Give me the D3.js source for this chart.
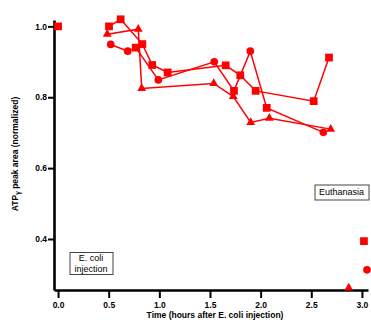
<!DOCTYPE html>
<html>
<head>
<meta charset="utf-8">
<script src="https://cdn.jsdelivr.net/npm/d3@7"></script>
<style>
    body { margin: 0; background: #fff; }
    svg { display: block; }
</style>
</head>
<body>
<div id="chart"></div>
<script>
// series A (mostly squares)
const timeA = [0.503, 0.618, 0.832, 0.930, 1.082, 1.655, 1.799, 1.951, 2.524, 2.675];
const valueA = [1.000, 1.020, 0.950, 0.891, 0.870, 0.890, 0.862, 0.818, 0.789, 0.912];
const shapeA = ["square", "square", "square", "square", "square", "square", "square", "square", "square", "square"];

// series B (mostly circles)
const timeB = [0.520, 0.688, 0.767, 0.990, 1.542, 1.737, 1.898, 2.060, 2.619];
const valueB = [0.949, 0.930, 0.940, 0.849, 0.900, 0.818, 0.930, 0.770, 0.701];
const shapeB = ["circle", "circle", "square", "circle", "circle", "square", "circle", "square", "circle"];

// series C (triangles)
const timeC = [0.486, 0.792, 0.826, 1.537, 1.730, 1.902, 2.086, 2.692];
const valueC = [0.978, 0.992, 0.825, 0.839, 0.802, 0.729, 0.741, 0.710];
const shapeC = ["triangle", "triangle", "triangle", "triangle", "triangle", "triangle", "triangle", "triangle"];

// isolated points: before injection and at euthanasia
const baseTime = [0];
const baseValue = [1.0];
const baseShape = ["square"];
const euthTime = [3.02, 3.05, 2.87];
const euthValue = [0.394, 0.313, 0.262];
const euthShape = ["square", "circle", "triangle"];

const xTicks = [0.0, 0.5, 1.0, 1.5, 2.0, 2.5, 3.0];
const yTicks = [0.4, 0.6, 0.8, 1.0];

const width = 371, height = 327;
const font = "'Liberation Sans', Arial, sans-serif";

const svg = d3.select("#chart")
    .append("svg")
    .attr("width", width)
    .attr("height", height);

// scales
const x = d3.scaleLinear().domain([-0.04, 3.06]).range([54, 368]);
const y = d3.scaleLinear().domain([0.256, 1.018]).range([290, 20]);

// x axis
const gx = svg.append("g")
    .attr("transform", "translate(0," + y(0.256) + ")")
    .call(d3.axisBottom(x)
        .tickValues(xTicks)
        .tickFormat(d3.format(".1f"))
        .tickSize(8)
        .tickSizeOuter(0)
        .tickPadding(4));

// y axis
const gy = svg.append("g")
    .attr("transform", "translate(" + x(-0.04) + ",0)")
    .call(d3.axisLeft(y)
        .tickValues(yTicks)
        .tickFormat(d3.format(".1f"))
        .tickSize(6)
        .tickSizeOuter(0)
        .tickPadding(1));

[gx, gy].forEach(g => {
    g.select(".domain").attr("stroke", "#000").attr("stroke-width", 2.6);
    g.selectAll(".tick line").attr("stroke", "#000").attr("stroke-width", 2);
    g.selectAll(".tick text")
        .attr("fill", "#000")
        .style("font-family", font)
        .style("font-size", "8.5px")
        .style("font-weight", "bold");
});

// axis titles
svg.append("text")
    .attr("x", 215)
    .attr("y", 318)
    .attr("text-anchor", "middle")
    .style("font-family", font)
    .style("font-size", "8.5px")
    .style("font-weight", "bold")
    .text("Time (hours after E. coli injection)");

const ylab = svg.append("text")
    .attr("transform", "translate(18,154) rotate(-90)")
    .attr("text-anchor", "middle")
    .style("font-family", font)
    .style("font-size", "8.5px")
    .style("font-weight", "bold");
ylab.append("tspan").text("ATP");
ylab.append("tspan").attr("dy", 2).style("font-size", "6.5px").text("γ");
ylab.append("tspan").attr("dy", -2).text(" peak area (normalized)");

// lines
const line = d3.line()
    .x(d => x(d.t))
    .y(d => y(d.v));

const toPoints = (ts, vs, ss) => ts.map((t, i) => ({ t: t, v: vs[i], s: ss[i] }));
const series = [
    toPoints(timeA, valueA, shapeA),
    toPoints(timeB, valueB, shapeB),
    toPoints(timeC, valueC, shapeC),
];

svg.selectAll(".trace")
    .data(series)
    .enter()
    .append("path")
    .attr("class", "trace")
    .attr("d", line)
    .attr("fill", "none")
    .attr("stroke", "#ff0000")
    .attr("stroke-width", 1.5);

// markers
const symbolType = { square: d3.symbolSquare, circle: d3.symbolCircle, triangle: d3.symbolTriangle };
const symbolSize = { square: 60, circle: 46, triangle: 34 };
const allPoints = series.flat()
    .concat(toPoints(baseTime, baseValue, baseShape))
    .concat(toPoints(euthTime, euthValue, euthShape));

svg.selectAll(".marker")
    .data(allPoints)
    .enter()
    .append("path")
    .attr("class", "marker")
    .attr("transform", d => "translate(" + x(d.t) + "," + y(d.v) + ")")
    .attr("d", d => d3.symbol().type(symbolType[d.s]).size(symbolSize[d.s])())
    .attr("fill", "#ff0000");

// annotation boxes
function note(cx, cy, lines, w, h) {
    const g = svg.append("g");
    g.append("rect")
        .attr("x", cx - w / 2 + 0.5)
        .attr("y", cy - h / 2 + 0.5)
        .attr("width", w)
        .attr("height", h)
        .attr("fill", "#fff")
        .attr("stroke", "#444")
        .attr("stroke-width", 1);
    lines.forEach((s, i) => {
        g.append("text")
            .attr("x", cx)
            .attr("y", cy - (lines.length - 1) * 5.5 + i * 11 + 3)
            .attr("text-anchor", "middle")
            .style("font-family", font)
            .style("font-size", "9px")
            .text(s);
    });
}
note(91, 263, ["E. coli", "injection"], 43, 22);
note(341.5, 192, ["Euthanasia"], 54, 15);
</script>
</body>
</html>
